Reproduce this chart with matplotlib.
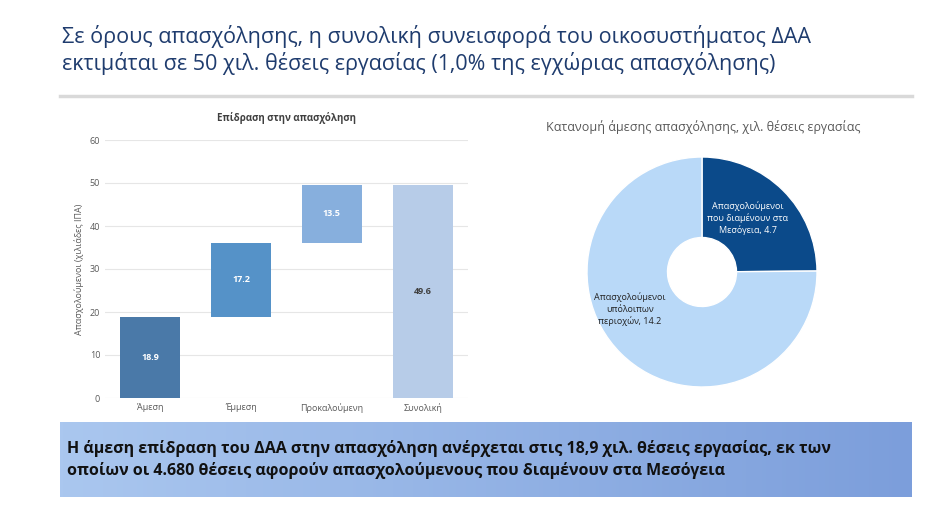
import matplotlib
matplotlib.use("Agg")
import matplotlib.pyplot as plt
import numpy as np
from matplotlib.colors import LinearSegmentedColormap

plt.rcParams["font.family"] = "Open Sans"

categories = ["Άμεση", "Έμμεση", "Προκαλούμενη", "Συνολική"]
values = [18.9, 17.2, 13.5, 49.6]
bar_colors = ["#4a79a8", "#5592c8", "#87afdd", "#b7cce8"]
label_colors = ["white", "white", "white", "#404040"]
yticks = [0, 10, 20, 30, 40, 50, 60]

pie_labels = ["Απασχολούμενοι\nπου διαμένουν στα\nΜεσόγεια, 4.7",
              "Απασχολούμενοι\nυπόλοιπων\nπεριοχών, 14.2"]
pie_values = [4.7, 14.2]
pie_colors = ["#0b4a8a", "#b9d9f8"]

fig = plt.figure(figsize=(9.42, 5.14), dpi=100)
fig.patch.set_facecolor("white")

fig.text(62/942, 1-50/514, "Σε όρους απασχόλησης, η συνολική συνεισφορά του οικοσυστήματος ΔΑΑ\nεκτιμάται σε 50 χιλ. θέσεις εργασίας (1,0% της εγχώριας απασχόλησης)",
         fontsize=15.5, color="#1f3c6e", va="center", ha="left", linespacing=1.2)
fig.add_artist(plt.Line2D([60/942, 912/942], [1-96/514, 1-96/514], color="#d9d9d9", lw=2.5))

# Bar chart
ax = fig.add_axes([105/942, 1-398/514, 363/942, 258/514])
bottoms = [0, values[0], values[0]+values[1], 0]
x = np.arange(len(categories))
bars = ax.bar(x, values, bottom=bottoms, color=bar_colors, width=0.66)
for i, b in enumerate(bars):
    ax.text(b.get_x()+b.get_width()/2, bottoms[i]+values[i]/2, f"{values[i]}",
            ha="center", va="center", fontsize=6.5, fontweight="bold", color=label_colors[i])
ax.set_ylim(0, 60)
ax.set_xlim(-0.5, 3.5)
ax.set_yticks(yticks)
ax.set_xticks(x)
ax.set_xticklabels(categories)
ax.tick_params(axis="both", length=0, labelsize=6.5, colors="#595959")
ax.grid(axis="y", color="#e6e6e6", lw=0.8)
ax.set_axisbelow(True)
for s in ax.spines.values():
    s.set_visible(False)
ax.set_ylabel("Απασχολούμενοι (χιλιάδες ΙΠΑ)", fontsize=6.5, color="#595959")
ax.set_title("Επίδραση στην απασχόληση", fontsize=7, fontweight="bold", color="#404040", pad=14)

# Donut
pax = fig.add_axes([582/942, 1-392/514, 240/942, 240/514])
wedges, _ = pax.pie(pie_values, colors=pie_colors, startangle=90, counterclock=False,
                    radius=115/120, wedgeprops=dict(width=115/120*0.7, edgecolor="white", linewidth=1))
pax.set_xlim(-1, 1); pax.set_ylim(-1, 1)
pax.set_aspect("equal")
pax.text(0.38, 0.45, pie_labels[0], ha="center", va="center", fontsize=6.5, color="white", linespacing=1.3)
pax.text(-0.6, -0.31, pie_labels[1], ha="center", va="center", fontsize=6.5, color="#222222", linespacing=1.3)
fig.text(703/942, 1-127/514, "Κατανομή άμεσης απασχόλησης, χιλ. θέσεις εργασίας",
         fontsize=9, color="#595959", ha="center", va="center")

# Banner
bax = fig.add_axes([60/942, 1-497/514, 852/942, 75/514])
cmap = LinearSegmentedColormap.from_list("g", ["#aac7ef", "#7c9edb"])
bax.imshow(np.linspace(0, 1, 256)[None, :], aspect="auto", cmap=cmap, extent=[0, 1, 0, 1])
bax.set_axis_off()
bax.text(0.008, 0.5, "Η άμεση επίδραση του ΔΑΑ στην απασχόληση ανέρχεται στις 18,9 χιλ. θέσεις εργασίας, εκ των\nοποίων οι 4.680 θέσεις αφορούν απασχολούμενους που διαμένουν στα Μεσόγεια",
         transform=bax.transAxes, fontsize=11.5, fontweight="bold", color="#111111", va="center", ha="left", linespacing=1.4)

fig.savefig("out.png", dpi=100)
